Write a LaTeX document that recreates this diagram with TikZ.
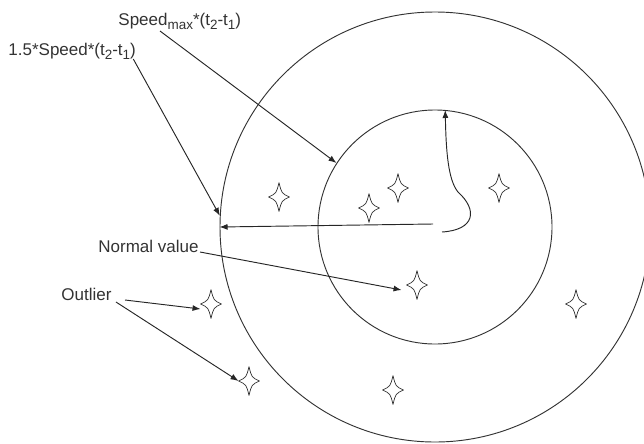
\documentclass[tikz,border=0pt]{standalone}
\usepackage{fontspec}
\setmainfont{Liberation Sans}
\usetikzlibrary{arrows.meta,calc}
\newcommand{\lowidx}[1]{\raisebox{-0.55ex}{\fontsize{11.5}{13}\selectfont #1}}

\begin{document}
\begin{tikzpicture}[
    x=0.03cm, y=-0.03cm,
    line width=0.8pt,
    lbl/.style={anchor=base west, inner sep=0pt, text=black!80, font=\fontsize{14.5}{17}\selectfont},
    ring/.style={circle, draw=black!80, inner sep=0pt},
    spark/.style={inner sep=0pt, minimum width=0.6cm, minimum height=0.84cm},
    arr/.style={-{Latex[length=2.4mm,width=1.8mm]}, draw=black!85}
]
\useasboundingbox (0,0) rectangle (644,443);

% range circles
\coordinate (ctr) at (435,227);
\node[ring, minimum size=12.9cm] (outer) at (ctr) {};
\node[ring, minimum size=7.02cm] (inner) at (ctr) {};

% points
\node[spark] (p1) at (279,197) {};
\node[spark] (p2) at (398,188) {};
\node[spark] (p3) at (369,208) {};
\node[spark] (p4) at (499,188) {};
\node[spark] (p5) at (417,285) {};
\node[spark] (p6) at (576,304) {};
\node[spark] (p7) at (393,390) {};
\node[spark] (p8) at (211,304) {};
\node[spark] (p9) at (249,381) {};
\foreach \s in {p1,p2,p3,p4,p5,p6,p7,p8,p9}
    \draw[black!80, line width=0.6pt, line join=round]
        (\s.north) .. controls ($(\s.center)!0.25!(\s.north east)$) .. (\s.east)
        .. controls ($(\s.center)!0.25!(\s.south east)$) .. (\s.south)
        .. controls ($(\s.center)!0.25!(\s.south west)$) .. (\s.west)
        .. controls ($(\s.center)!0.25!(\s.north west)$) .. (\s.north);

% labels
\node[lbl] (smax) at (118,25) {Speed\lowidx{max}*(t\lowidx{2}-t\lowidx{1})};
\node[lbl] (sfac) at (8,55) {1.5*Speed*(t\lowidx{2}-t\lowidx{1})};
\node[lbl] (normal) at (98,252) {Normal value};
\node[lbl] (outlier) at (61,300) {Outlier};

% arrows
\draw[arr] ($(smax.base west)+(42,6)$) -- (inner.147);
\draw[arr] ($(sfac.base east)+(-3,4)$) -- (outer.177);
\draw[arr] ($(ctr)+(-2,-3)$) -- (outer.west);
\draw[arr] ($(ctr)+(7,5)$) .. controls (475,230) and (478,210) .. (458,192)
    .. controls (448,180) and (446,150) .. (inner.85);
\draw[arr] ($(normal.base east)+(1,0)$) -- ($(p5.west)+(-5,5)$);
\draw[arr] ($(outlier.base east)+(13,0)$) -- ($(p8.west)+(0,5)$);
\draw[arr] ($(outlier.base east)+(4,2)$) -- (p9.west);

\end{tikzpicture}
\end{document}
